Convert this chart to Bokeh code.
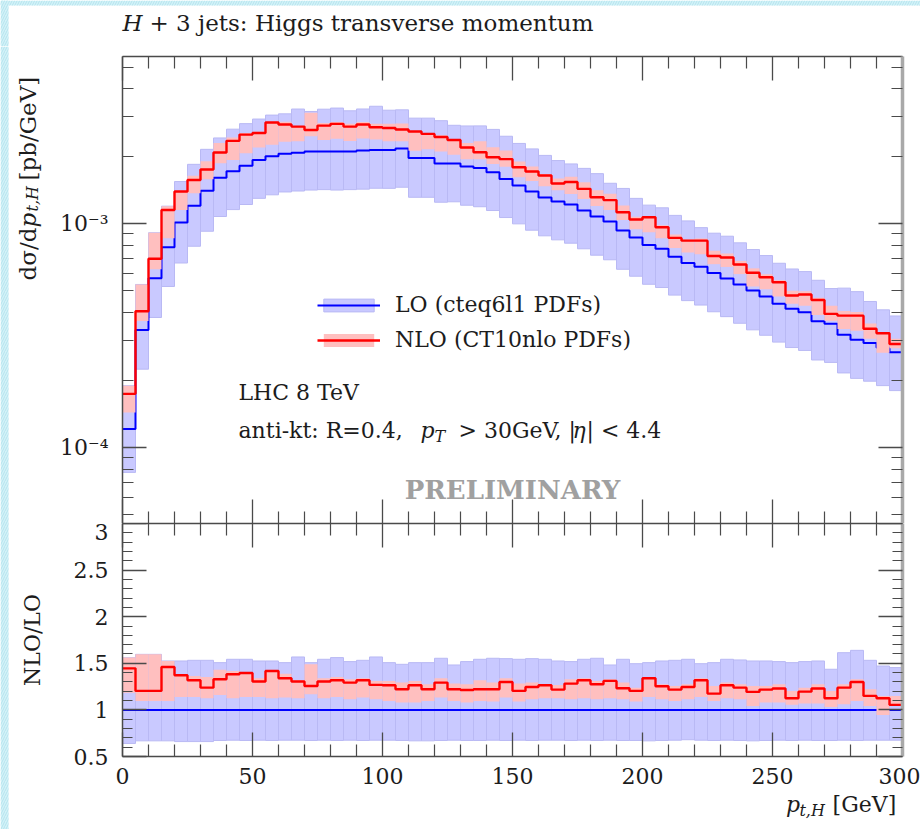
import math
import numpy as np
from bokeh.plotting import figure
from bokeh.models import (Range1d, FixedTicker, LinearAxis, LogAxis, LogScale, Label, BoxAnnotation,
                          Legend, LegendItem, ColumnDataSource, CustomJSTickFormatter)
from bokeh.layouts import column, row
from bokeh.embed import file_html
from bokeh.resources import INLINE

# ---------------- data ----------------
bin_low = list(range(0, 300, 5))
bin_high = list(range(5, 305, 5))

lo_xsec = [1.21e-4, 3.35e-4, 5.70e-4, 7.84e-4, 1.01e-3, 1.20e-3, 1.40e-3, 1.60e-3, 1.71e-3, 1.81e-3,
           1.92e-3, 2.00e-3, 2.05e-3, 2.07e-3, 2.10e-3, 2.10e-3, 2.10e-3, 2.10e-3, 2.12e-3, 2.13e-3,
           2.128e-3, 2.162e-3, 1.961e-3, 1.961e-3, 1.853e-3, 1.853e-3, 1.797e-3, 1.769e-3, 1.694e-3, 1.583e-3,
           1.477e-3, 1.390e-3, 1.306e-3, 1.253e-3, 1.216e-3, 1.143e-3, 1.075e-3, 1.021e-3, 9.30e-4, 8.66e-4,
           8.02e-4, 7.71e-4, 7.10e-4, 6.66e-4, 6.41e-4, 6.01e-4, 5.69e-4, 5.34e-4, 5.02e-4, 4.72e-4,
           4.38e-4, 4.16e-4, 4.02e-4, 3.66e-4, 3.57e-4, 3.19e-4, 3.03e-4, 2.93e-4, 2.80e-4, 2.66e-4]

nlo_xsec = [1.737e-4, 4.06e-4, 6.96e-4, 1.149e-3, 1.390e-3, 1.564e-3, 1.742e-3, 2.075e-3, 2.340e-3, 2.496e-3,
            2.535e-3, 2.824e-3, 2.767e-3, 2.710e-3, 2.615e-3, 2.738e-3, 2.787e-3, 2.710e-3, 2.767e-3, 2.691e-3,
            2.669e-3, 2.628e-3, 2.575e-3, 2.514e-3, 2.433e-3, 2.359e-3, 2.184e-3, 2.081e-3, 1.977e-3, 1.940e-3,
            1.784e-3, 1.707e-3, 1.638e-3, 1.509e-3, 1.532e-3, 1.429e-3, 1.310e-3, 1.273e-3, 1.123e-3, 1.042e-3,
            1.067e-3, 9.63e-4, 8.63e-4, 8.39e-4, 8.39e-4, 7.16e-4, 7.05e-4, 6.56e-4, 6.03e-4, 5.76e-4,
            5.47e-4, 4.77e-4, 4.82e-4, 4.56e-4, 3.95e-4, 3.88e-4, 3.88e-4, 3.39e-4, 3.24e-4, 2.90e-4]

ratio_nlo_lo = [1.446, 1.204, 1.204, 1.461, 1.371, 1.318, 1.239, 1.329, 1.382, 1.396,
                1.304, 1.418, 1.339, 1.304, 1.257, 1.304, 1.318, 1.293, 1.318, 1.268,
                1.264, 1.221, 1.264, 1.221, 1.293, 1.221, 1.214, 1.221, 1.221, 1.300,
                1.204, 1.246, 1.264, 1.218, 1.282, 1.318, 1.275, 1.311, 1.232, 1.204,
                1.339, 1.254, 1.218, 1.246, 1.318, 1.175, 1.264, 1.239, 1.193, 1.218,
                1.229, 1.125, 1.196, 1.229, 1.125, 1.239, 1.300, 1.150, 1.125, 1.054]

# LO scale band relative to LO
lo_band_up = [1.560, 1.596, 1.596, 1.525, 1.525, 1.532, 1.532, 1.507, 1.543, 1.543,
              1.525, 1.525, 1.507, 1.568, 1.507, 1.543, 1.561, 1.518, 1.532, 1.568,
              1.507, 1.489, 1.507, 1.507, 1.554, 1.482, 1.518, 1.543, 1.554, 1.550,
              1.543, 1.550, 1.543, 1.525, 1.518, 1.543, 1.554, 1.482, 1.543, 1.496,
              1.507, 1.525, 1.532, 1.543, 1.496, 1.507, 1.543, 1.536, 1.525, 1.525,
              1.518, 1.507, 1.518, 1.525, 1.436, 1.614, 1.639, 1.532, 1.471, 1.454]
lo_band_dn = [0.640, 0.668, 0.668, 0.668, 0.660, 0.660, 0.660, 0.672, 0.675, 0.672,
              0.675, 0.672, 0.675, 0.675, 0.672, 0.675, 0.672, 0.675, 0.672, 0.675,
              0.675, 0.672, 0.668, 0.668, 0.672, 0.675, 0.672, 0.672, 0.675, 0.672,
              0.675, 0.672, 0.675, 0.675, 0.672, 0.675, 0.672, 0.675, 0.672, 0.672,
              0.668, 0.672, 0.675, 0.680, 0.675, 0.672, 0.675, 0.672, 0.668, 0.672,
              0.675, 0.672, 0.675, 0.672, 0.672, 0.675, 0.672, 0.675, 0.675, 0.675]
# NLO scale band relative to LO
nlo_band_up = [1.561, 1.596, 1.596, 1.525, 1.382, 1.364, 1.354, 1.432, 1.418, 1.400,
               1.339, 1.425, 1.389, 1.318, 1.489, 1.339, 1.354, 1.329, 1.339, 1.311,
               1.311, 1.293, 1.311, 1.275, 1.339, 1.282, 1.275, 1.318, 1.293, 1.339,
               1.282, 1.293, 1.275, 1.268, 1.329, 1.339, 1.311, 1.329, 1.293, 1.239,
               1.339, 1.275, 1.257, 1.275, 1.339, 1.257, 1.293, 1.275, 1.257, 1.257,
               1.275, 1.204, 1.239, 1.275, 1.204, 1.275, 1.329, 1.221, 1.150, 1.150]
nlo_band_dn = [1.185, 1.096, 1.096, 1.096, 1.139, 1.139, 1.125, 1.161, 1.125, 1.139,
               1.139, 1.125, 1.132, 1.125, 1.168, 1.125, 1.139, 1.114, 1.132, 1.114,
               1.096, 1.079, 1.079, 1.096, 1.132, 1.096, 1.079, 1.096, 1.089, 1.132,
               1.089, 1.114, 1.125, 1.125, 1.114, 1.125, 1.114, 1.125, 1.114, 1.089,
               1.139, 1.114, 1.096, 1.114, 1.139, 1.096, 1.125, 1.114, 1.043, 1.079,
               1.079, 1.054, 1.068, 1.068, 1.032, 1.061, 1.096, 1.043, 0.946, 1.043]

x_ticks = [0, 50, 100, 150, 200, 250, 300]
x_minor_ticks = [v for v in range(10, 300, 10) if v % 50 != 0]
y_main_ticks = [1e-4, 1e-3]
y_main_labels = ["10⁻⁴", "10⁻³"]
y_main_minor = [m * 1e-5 for m in range(5, 10)] + [m * 1e-4 for m in range(2, 10)] + [m * 1e-3 for m in range(2, 6)]
y_ratio_ticks = [0.5, 1.0, 1.5, 2.0, 2.5, 3.0]
y_ratio_labels = ["0.5", "1", "1.5", "2", "2.5", "3"]
y_ratio_minor = [round(0.5 + 0.1 * i, 2) for i in range(1, 25) if i % 5 != 0]

legend_labels = ["LO (cteq6l1 PDFs)", "NLO (CT10nlo PDFs)"]

# ---------------- styling ----------------
FONT = "DejaVu Serif"
FS = "22px"
TXT = "#1c1c1c"
FRAME = "#4a4a4a"
FRAME_RIGHT = "#a9a9a9"
BLUE = "#0000ff"
RED = "#ff0000"
BLUE_BAND = "#c9c9ff"
BLUE_EDGE = "#b9b9f4"
PINK_BAND = "#ffbfbf"
PAGE_EDGE = "#d3f2f8"
PAGE_EDGE_HATCH = "#b5e4ee"

lo = np.array(lo_xsec)
nlo = np.array(nlo_xsec)
src = ColumnDataSource(dict(
    left=bin_low, right=bin_high,
    lo_up=lo * np.array(lo_band_up), lo_dn=lo * np.array(lo_band_dn),
    nlo_up=lo * np.array(nlo_band_up), nlo_dn=lo * np.array(nlo_band_dn),
    r_lo_up=lo_band_up, r_lo_dn=lo_band_dn,
    r_nlo_up=nlo_band_up, r_nlo_dn=nlo_band_dn,
))
edges = bin_low + [bin_high[-1]]
step_src = ColumnDataSource(dict(
    x=edges,
    lo=list(lo) + [lo[-1]],
    nlo=list(nlo) + [nlo[-1]],
    r_lo=list(lo / lo) + [1.0],
    r_nlo=ratio_nlo_lo + [ratio_nlo_lo[-1]],
))

BLANK = CustomJSTickFormatter(code="return ''")


def style_axis(ax, labels, major_len=24, minor_len=12, line_color=FRAME, line_width=1.5):
    ax.major_tick_in = major_len
    ax.major_tick_out = 0
    ax.minor_tick_in = minor_len
    ax.minor_tick_out = 0
    ax.major_tick_line_color = FRAME
    ax.minor_tick_line_color = FRAME
    ax.major_tick_line_width = 1.3
    ax.minor_tick_line_width = 1.2
    ax.axis_line_color = line_color
    ax.axis_line_width = line_width
    if labels:
        ax.major_label_text_font = FONT
        ax.major_label_text_font_size = FS
        ax.major_label_text_color = TXT
    else:
        ax.formatter = BLANK
        ax.major_label_text_font_size = "2px"
        ax.major_label_standoff = 0


def lab(p, **kw):
    base = dict(x_units="data", y_units="data", text_font=FONT, text_font_size=FS,
                text_color=TXT, text_baseline="middle")
    base.update(kw)
    p.add_layout(Label(**base))


def strip(w, h, xr, yr):
    s = figure(width=w, height=h, x_range=Range1d(*xr), y_range=Range1d(*yr),
               x_axis_location=None, y_axis_location=None, toolbar_location=None,
               output_backend="svg", min_border=0)
    s.outline_line_color = None
    s.grid.visible = False
    s.background_fill_color = "white"
    s.border_fill_color = "white"
    return s


def page_edge(p, **kw):
    p.add_layout(BoxAnnotation(fill_color=PAGE_EDGE, fill_alpha=1.0, line_color=None,
                               hatch_pattern="/", hatch_color=PAGE_EDGE_HATCH, hatch_scale=5,
                               hatch_weight=1, **kw))


xr = Range1d(0, 300)
xt = FixedTicker(ticks=x_ticks, minor_ticks=x_minor_ticks)

# ---------------- main panel ----------------
p1 = figure(frame_width=780, frame_height=467, x_range=xr,
            y_range=Range1d(4.58e-5, 5.57e-3), y_axis_type="log",
            x_axis_location=None, y_axis_location=None,
            output_backend="svg", toolbar_location=None,
            min_border_left=72, min_border_right=18, min_border_top=10, min_border_bottom=0)
p1.y_scale = LogScale()
p1.grid.visible = False
p1.outline_line_color = None
p1.border_fill_color = "white"

yt1 = FixedTicker(ticks=y_main_ticks, minor_ticks=y_main_minor)
for loc, labs in (("above", False), ("below", False)):
    a = LinearAxis(ticker=xt)
    style_axis(a, labs)
    p1.add_layout(a, loc)
for loc, labs in (("left", True), ("right", False)):
    a = LogAxis(ticker=yt1)
    if labs:
        style_axis(a, labs, 24, 11)
        a.major_label_overrides = dict(zip(y_main_ticks, y_main_labels))
        a.major_label_standoff = 14
    else:
        style_axis(a, labs, 24, 11, FRAME_RIGHT, 3.5)
    p1.add_layout(a, loc)

r_lo_band = p1.quad(left="left", right="right", top="lo_up", bottom="lo_dn", source=src,
                    fill_color=BLUE_BAND, line_color=BLUE_EDGE, line_width=1)
r_lo_line = p1.step(x="x", y="lo", source=step_src, mode="after", line_color=BLUE, line_width=2)
r_nlo_band = p1.quad(left="left", right="right", top="nlo_up", bottom="nlo_dn", source=src,
                     fill_color=PINK_BAND, line_color=None)
r_nlo_line = p1.step(x="x", y="nlo", source=step_src, mode="after", line_color=RED, line_width=2.4)

legend = Legend(items=[LegendItem(label=legend_labels[0], renderers=[r_lo_band, r_lo_line]),
                       LegendItem(label=legend_labels[1], renderers=[r_nlo_band, r_nlo_line])],
                location=(195, 171), padding=0, margin=0, spacing=10,
                glyph_width=63, glyph_height=16, label_height=16, label_standoff=15,
                border_line_color=None, background_fill_alpha=0,
                label_text_font=FONT, label_text_font_size=FS, label_text_color=TXT)
p1.add_layout(legend)


def px(xpix):
    return (xpix - 122) / 2.6


lab(p1, x=px(238), y=1.76e-4, text="LHC 8 TeV")
lab(p1, x=px(238), y=1.19e-4, text="anti-kt: R=0.4,")
lab(p1, x=px(420), y=1.19e-4, text="p", text_font_style="italic")
lab(p1, x=px(434), y=1.115e-4, text="T", text_font_style="italic", text_font_size="16px")
lab(p1, x=px(458), y=1.19e-4, text="> 30GeV, |")
lab(p1, x=px(572), y=1.19e-4, text="η", text_font_style="italic")
lab(p1, x=px(586), y=1.19e-4, text="| < 4.4")
lab(p1, x=px(512), y=6.43e-5, text="PRELIMINARY", text_align="center",
    text_font_style="bold", text_color="#a0a0a0", text_font_size="26px")

# ---------------- ratio panel ----------------
p2 = figure(frame_width=780, frame_height=233, x_range=xr, y_range=Range1d(0.5, 3.0),
            x_axis_location=None, y_axis_location=None,
            output_backend="svg", toolbar_location=None,
            min_border_left=72, min_border_right=18, min_border_top=0, min_border_bottom=37)
p2.grid.visible = False
p2.outline_line_color = None
p2.border_fill_color = "white"

yt2 = FixedTicker(ticks=y_ratio_ticks, minor_ticks=y_ratio_minor)
for loc, labs in (("above", False), ("below", True)):
    a = LinearAxis(ticker=xt)
    style_axis(a, labs)
    if labs:
        a.major_label_standoff = 11
    p2.add_layout(a, loc)
for loc, labs in (("left", True), ("right", False)):
    a = LinearAxis(ticker=yt2)
    if labs:
        style_axis(a, labs, 24, 10)
        a.major_label_overrides = dict(zip(y_ratio_ticks, y_ratio_labels))
        a.major_label_standoff = 14
    else:
        style_axis(a, labs, 24, 10, FRAME_RIGHT, 3.5)
    p2.add_layout(a, loc)

p2.quad(left="left", right="right", top="r_lo_up", bottom="r_lo_dn", source=src,
        fill_color=BLUE_BAND, line_color=BLUE_EDGE, line_width=1)
p2.step(x="x", y="r_lo", source=step_src, mode="after", line_color=BLUE, line_width=2)
p2.quad(left="left", right="right", top="r_nlo_up", bottom="r_nlo_dn", source=src,
        fill_color=PINK_BAND, line_color=None)
p2.step(x="x", y="r_nlo", source=step_src, mode="after", line_color=RED, line_width=2.4)

# ---------------- text strips around the panels (page-pixel coordinates) ----------------
top = strip(920, 46, (0, 920), (46, 0))
page_edge(top, top=0, bottom=5)
page_edge(top, left=0, right=8)
lab(top, x=122, y=22, text="H", text_font_style="italic", text_font_size="23px")
lab(top, x=149, y=22, text="+ 3 jets: Higgs transverse momentum", text_font_size="23px")

left = strip(50, 783, (0, 50), (829, 46))
page_edge(left, left=0, right=8)
R90 = math.pi / 2
lab(left, x=27, y=280, text="dσ/d", angle=R90, text_font_size="23px")
lab(left, x=27, y=227, text="p", angle=R90, text_font_style="italic", text_font_size="23px")
lab(left, x=32, y=211, text="t,H", angle=R90, text_font_style="italic", text_font_size="16px")
lab(left, x=27, y=180, text="[pb/GeV]", angle=R90, text_font_size="23px")
lab(left, x=32, y=639.5, text="NLO/LO", angle=R90, text_align="center")

bottom = strip(870, 32, (50, 920), (829, 797))
lab(bottom, x=790, y=808, text="p", text_font_style="italic")
lab(bottom, x=805, y=814, text="t,H", text_font_style="italic", text_font_size="16px")
lab(bottom, x=842, y=808, text="[GeV]")

layout = column(top, row(left, column(p1, p2, bottom, spacing=0), spacing=0), spacing=0)
open("out.html", "w").write(file_html(layout, INLINE))
